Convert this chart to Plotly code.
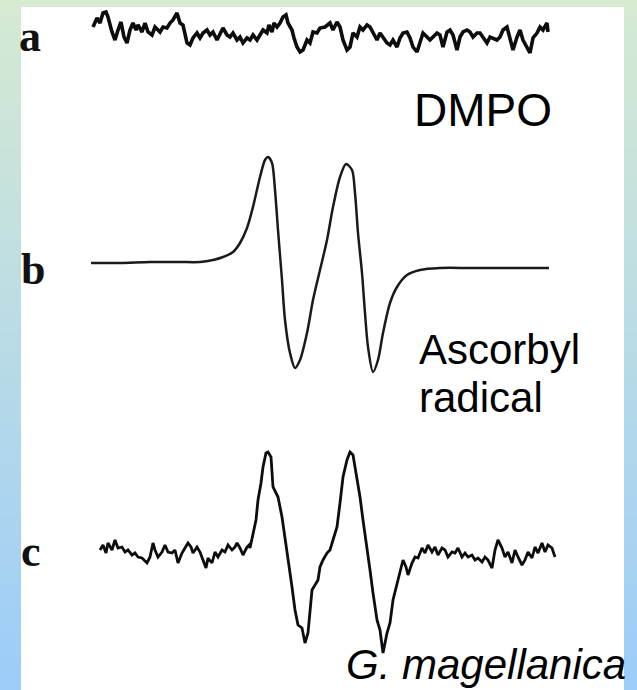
import plotly.graph_objects as go

# ---------------- data ----------------
# field positions (arb. units) and pen deflections (arb. units, downward positive)
a_field = [93,97,100,103,106,108,112,115,118,121,124,127,130,133,136,138,142,145,148,152,
           155,160,163,167,170,173,177,180,183,187,190,193,197,200,203,207,210,213,217,220,
           223,227,230,233,237,240,243,247,250,253,257,260,263,267,269,272,274,277,280,283,
           286,288,292,294,297,300,303,307,310,313,317,320,
           325,330,333,337,340,343,347,350,353,357,360,363,367,370,373,377,380,383,387,390,
           393,397,400,403,407,410,413,417,420,423,427,430,433,437,440,443,447,450,453,457,
           460,463,467,470,473,477,480,483,487,490,493,497,500,503,507,510,513,517,520,523,
           527,530,533,537,540,543,547,548]
a_signal = [27,18,23,13,12,17,32,40,30,22,37,43,30,23,30,25,32,23,32,35,
            27,32,27,28,23,20,13,23,25,43,45,38,33,38,33,30,35,32,40,33,
            28,35,37,33,40,37,43,38,40,35,40,35,30,33,25,32,23,27,23,17,
            15,23,30,38,47,52,50,40,43,32,33,28,
            27,23,30,22,27,40,50,47,33,37,27,30,25,27,33,40,33,37,43,45,
            40,47,38,33,32,38,47,52,43,33,37,40,37,33,35,47,32,30,35,50,
            37,32,30,32,37,33,33,38,43,37,38,40,37,30,27,40,50,37,30,40,
            47,53,38,33,27,30,23,32]

b_field = [91,120,150,180,200,213,223,233,240,247,253,260,265,268,272,275,278,282,285,290,
           295,300,307,313,320,327,333,340,346,352,355,358,362,365,368,373,378,383,390,397,
           407,420,440,470,500,549]
b_signal = [263,263,262,262,262,260,257,252,243,228,207,177,160,157,163,190,230,280,320,353,
            368,360,333,300,270,240,207,177,164,170,193,233,273,313,347,372,360,333,303,287,
            275,270,268,268,268,268]

c_field = [100,103,106,108,112,115,118,122,125,128,132,135,138,142,147,150,153,155,158,162,
           165,168,172,175,178,182,185,188,191,193,197,200,203,206,208,212,215,218,222,225,
           228,232,235,237,240,243,247,249,
           250,253,256,258,261,263,266,268,271,273,278,282,285,288,292,295,298,302,305,308,
           312,315,318,320,323,327,330,333,337,340,343,347,350,353,357,360,363,367,370,373,
           377,380,383,387,390,393,397,400,403,406,408,
           412,415,418,422,425,428,432,435,438,442,445,448,452,455,458,462,465,468,472,475,
           478,482,485,488,492,495,498,502,505,508,512,515,518,522,525,528,532,535,538,542,
           545,548,552,555]
c_signal = [550,545,553,543,550,540,548,547,552,550,555,553,557,558,563,557,543,550,557,552,
            545,552,553,550,563,553,548,543,547,553,547,552,560,568,558,563,552,557,550,552,
            545,550,547,543,548,555,547,545,
            548,533,520,500,483,467,453,452,457,487,497,517,537,560,587,610,625,628,643,633,
            590,585,580,567,560,553,550,540,527,503,477,460,452,455,477,497,520,547,570,593,
            620,630,653,633,623,600,583,572,560,567,575,
            563,557,558,548,553,545,552,547,555,548,550,557,552,553,548,557,553,557,555,560,
            558,562,557,560,568,550,540,548,557,552,563,550,557,565,560,552,558,547,553,543,
            552,545,548,557]

trace_labels = ["a", "b", "c"]
species_labels = ["DMPO", "Ascorbyl", "radical", "G. magellanica"]

W, H = 637, 690

fig = go.Figure()
fig.add_trace(go.Scatter(x=a_field, y=a_signal, mode="lines",
                         line=dict(color="#0d0d0d", width=3.6), hoverinfo="skip"))
fig.add_trace(go.Scatter(x=b_field, y=b_signal, mode="lines",
                         line=dict(color="#1a1a1a", width=2.5, shape="spline", smoothing=0.8),
                         hoverinfo="skip"))
fig.add_trace(go.Scatter(x=c_field, y=c_signal, mode="lines",
                         line=dict(color="#0d0d0d", width=2.8), hoverinfo="skip"))

# ---------------- background gradient frame ----------------
def lerp(c1, c2, t):
    return "rgb(%d,%d,%d)" % tuple(round(c1[i] + (c2[i] - c1[i]) * t) for i in range(3))

top_c = (214, 234, 210)
bot_c = (156, 204, 248)
shapes = []
n = 60
for i in range(n):
    t = i / (n - 1)
    shapes.append(dict(type="rect", xref="paper", yref="paper",
                       x0=0, x1=1, y0=1 - (i + 1) / n, y1=1 - i / n + 0.002,
                       fillcolor=lerp(top_c, bot_c, t), line=dict(width=0), layer="below"))
shapes.append(dict(type="rect", xref="paper", yref="paper",
                   x0=21 / W, x1=624 / W, y0=0, y1=1 - 7 / H,
                   fillcolor="white", line=dict(width=0), layer="below"))

serif = "Times New Roman, Liberation Serif, serif"
sans = "Arial, Liberation Sans, sans-serif"
ann = []
for lab, (xx, yy) in zip(trace_labels, [(30, 36), (33, 269), (31, 551)]):
    ann.append(dict(text="<b>%s</b>" % lab, x=xx, y=yy, xref="x", yref="y",
                    showarrow=False, xanchor="center", yanchor="middle",
                    font=dict(family=serif, size=44, color="#111111")))
ann.append(dict(text=species_labels[0], x=412, y=110, xref="x", yref="y", showarrow=False,
                xanchor="left", yanchor="middle", font=dict(family=sans, size=46, color="black")))
ann.append(dict(text=species_labels[1], x=417, y=349, xref="x", yref="y", showarrow=False,
                xanchor="left", yanchor="middle", font=dict(family=sans, size=42, color="black")))
ann.append(dict(text=species_labels[2], x=417, y=397, xref="x", yref="y", showarrow=False,
                xanchor="left", yanchor="middle", font=dict(family=sans, size=42, color="black")))
ann.append(dict(text="<i>%s</i>" % species_labels[3], x=344, y=664, xref="x", yref="y",
                showarrow=False, xanchor="left", yanchor="middle",
                font=dict(family=sans, size=42, color="black")))

fig.update_layout(
    width=W, height=H, margin=dict(l=0, r=0, t=0, b=0),
    paper_bgcolor="white", plot_bgcolor="rgba(0,0,0,0)",
    showlegend=False, shapes=shapes, annotations=ann,
    xaxis=dict(range=[0, W], visible=False, fixedrange=True),
    yaxis=dict(range=[H, 0], visible=False, fixedrange=True),
)
fig.write_html("out.html", config={"displayModeBar": False})
